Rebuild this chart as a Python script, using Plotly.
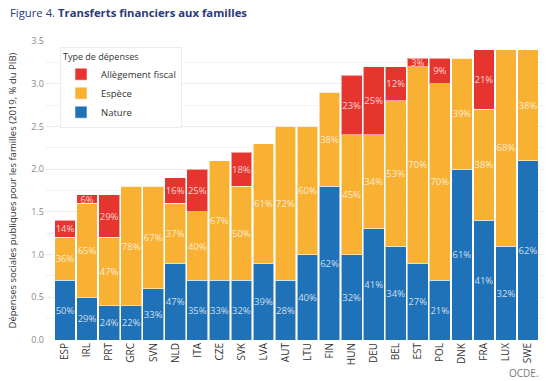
import plotly.graph_objects as go

countries = ["ESP", "IRL", "PRT", "GRC", "SVN", "NLD", "ITA", "CZE", "SVK", "LVA", "AUT", "LTU",
             "FIN", "HUN", "DEU", "BEL", "EST", "POL", "DNK", "FRA", "LUX", "SWE"]
nature = [0.7, 0.5, 0.4, 0.4, 0.6, 0.9, 0.7, 0.7, 0.7, 0.9, 0.7, 1.0,
          1.8, 1.0, 1.3, 1.1, 0.9, 0.7, 2.0, 1.4, 1.1, 2.1]
espece = [0.5, 1.1, 0.8, 1.4, 1.2, 0.7, 0.8, 1.4, 1.1, 1.4, 1.8, 1.5,
          1.1, 1.4, 1.1, 1.7, 2.3, 2.3, 1.3, 1.3, 2.3, 1.3]
fiscal = [0.2, 0.1, 0.5, 0.0, 0.0, 0.3, 0.5, 0.0, 0.4, 0.0, 0.0, 0.0,
          0.0, 0.7, 0.8, 0.4, 0.1, 0.3, 0.0, 0.7, 0.0, 0.0]
nature_pct = ["50%", "29%", "24%", "22%", "33%", "47%", "35%", "33%", "32%", "39%", "28%", "40%",
              "62%", "32%", "41%", "34%", "27%", "21%", "61%", "41%", "32%", "62%"]
espece_pct = ["36%", "65%", "47%", "78%", "67%", "37%", "40%", "67%", "50%", "61%", "72%", "60%",
              "38%", "45%", "34%", "53%", "70%", "70%", "39%", "38%", "68%", "38%"]
fiscal_pct = ["14%", "6%", "29%", "", "", "16%", "25%", "", "18%", "", "", "",
              "", "23%", "25%", "12%", "3%", "9%", "", "21%", "", ""]

FONT = "Open Sans"
label_font = dict(family=FONT, size=9.5, color="rgba(255,255,255,0.78)")

fig = go.Figure()
for name, vals, txt, col in [
    ("Nature", nature, nature_pct, "#1f71b8"),
    ("Espèce", espece, espece_pct, "#f8b133"),
    ("Allègement fiscal", fiscal, fiscal_pct, "#e6352e"),
]:
    fig.add_trace(go.Bar(
        x=countries, y=vals, name=name, text=txt,
        marker=dict(color=col, line=dict(color="rgba(255,255,255,0.55)", width=1)),
        textposition="inside", insidetextanchor="middle", constraintext="none",
        textangle=0, textfont=label_font, hoverinfo="x+y+name",
    ))

fig.update_layout(
    width=550, height=381,
    barmode="stack", bargap=0.06,
    margin=dict(l=45, r=5, t=41, b=41),
    plot_bgcolor="white", paper_bgcolor="white",
    font=dict(family=FONT, color="#444"),
    showlegend=True,
    legend=dict(
        x=0.03, y=0.98, xanchor="left", yanchor="top",
        bgcolor="white", bordercolor="#ececec", borderwidth=1,
        traceorder="reversed", itemwidth=30,
        title=dict(text="Type de dépenses", font=dict(family=FONT, size=9, color="#333")),
        font=dict(family=FONT, size=9.5, color="#333"),
    ),
    xaxis=dict(
        range=[-0.91, 21.77], tickangle=-90,
        tickfont=dict(family=FONT, size=10, color="#333"),
        showgrid=False, showline=False, ticks="",
    ),
    yaxis=dict(
        range=[0, 3.5], dtick=0.5, tickformat=".1f",
        tickfont=dict(family=FONT, size=9, color="#888"),
        showgrid=True, gridcolor="#ececec", gridwidth=1,
        minor=dict(dtick=0.25, showgrid=True, gridcolor="#f3f3f3"),
        zeroline=False, showline=False, ticks="",
    ),
    annotations=[
        dict(text="Figure 4. <b>Transferts financiers aux familles</b>",
             xref="paper", yref="paper", x=-0.074, y=1.0, yshift=29,
             xanchor="left", yanchor="middle", showarrow=False,
             font=dict(family=FONT, size=11.3, color="#2b3a78")),
        dict(text="Dépenses sociales publiques pour les familles (2019, % du PIB)",
             xref="paper", yref="paper", x=-0.066, y=0.5, textangle=-90,
             xanchor="center", yanchor="middle", showarrow=False,
             font=dict(family=FONT, size=9.5, color="#333")),
        dict(text="OCDE.", xref="paper", yref="paper", x=0.992, y=0, yshift=-33,
             xanchor="right", yanchor="middle", showarrow=False,
             font=dict(family=FONT, size=10, color="#777")),
    ],
)

fig.write_html("out.html", config={"displayModeBar": False},
               post_script="document.body.style.margin='0';")
